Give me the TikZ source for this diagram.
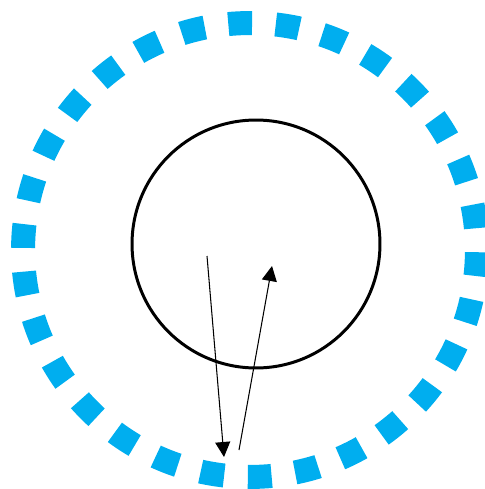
\documentclass[tikz,border=0pt]{standalone}
\usepackage{tikz}
\usetikzlibrary{arrows.meta}
\definecolor{ringblue}{RGB}{0,174,239}

\begin{document}
\begin{tikzpicture}[
    x=0.02cm, y=-0.02cm,
    ring/.style={circle, draw=ringblue, line width=0.48cm, inner sep=0pt, minimum size=9.08cm,
      dash pattern=on 0.4754cm off 0.4754cm, dash phase=0.5151cm},
    core/.style={circle, draw=black, line width=1.7pt, inner sep=0pt, minimum size=4.96cm},
    arrow/.style={-{Triangle[length=0.3cm, width=0.3cm]}, line width=0.6pt},
  ]
  \useasboundingbox (0,0) rectangle (484,489);

  % ---- circles ----
  \node[ring] (ring) at (250,250) {};
  \node[core] (core) at (256,244) {};

  % ---- arrow end points ----
  \coordinate (inA) at (207,256);
  \coordinate (outA) at (224,457);
  \coordinate (outB) at (239,450);
  \coordinate (inB) at (272,266);

  % ---- arrows ----
  \draw[arrow] (inA) -- (outA);
  \draw[arrow] (outB) -- (inB);
\end{tikzpicture}
\end{document}
